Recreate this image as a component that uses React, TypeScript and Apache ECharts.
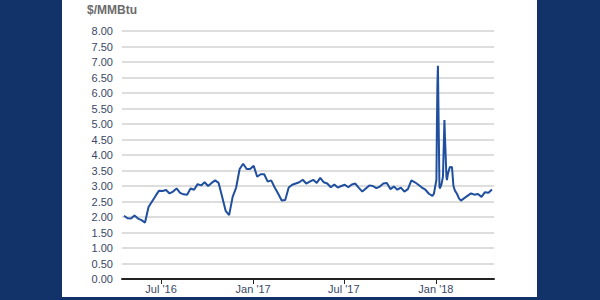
import React, { useEffect, useRef } from "react";
import * as echarts from "echarts";

const dates: string[] = [
  "2016-04-18","2016-04-25","2016-05-02","2016-05-09","2016-05-16","2016-05-23","2016-05-30",
  "2016-06-06","2016-06-13","2016-06-20","2016-06-27","2016-07-04","2016-07-11","2016-07-18",
  "2016-07-25","2016-08-01","2016-08-08","2016-08-15","2016-08-22","2016-08-29","2016-09-05",
  "2016-09-12","2016-09-19","2016-09-26","2016-10-03","2016-10-10","2016-10-17","2016-10-24",
  "2016-10-31","2016-11-07","2016-11-14","2016-11-21","2016-11-28","2016-12-05","2016-12-12",
  "2016-12-19","2016-12-26","2017-01-02","2017-01-09","2017-01-16","2017-01-23","2017-01-30",
  "2017-02-06","2017-02-13","2017-02-20","2017-02-27","2017-03-06","2017-03-13","2017-03-20",
  "2017-03-27","2017-04-03","2017-04-10","2017-04-17","2017-04-24","2017-05-01","2017-05-08",
  "2017-05-15","2017-05-22","2017-05-29","2017-06-05","2017-06-12","2017-06-19","2017-06-26",
  "2017-07-03","2017-07-10","2017-07-17","2017-07-24","2017-07-31","2017-08-07","2017-08-14",
  "2017-08-21","2017-08-28","2017-09-04","2017-09-11","2017-09-18","2017-09-25","2017-10-02",
  "2017-10-09","2017-10-16","2017-10-23","2017-10-30","2017-11-06","2017-11-13","2017-11-20",
  "2017-11-27","2017-12-04","2017-12-11","2017-12-18","2017-12-25","2017-12-28","2018-01-02",
  "2018-01-03","2018-01-04","2018-01-05","2018-01-08","2018-01-09","2018-01-12","2018-01-15",
  "2018-01-17","2018-01-18","2018-01-19","2018-01-22","2018-01-23","2018-01-25","2018-01-29",
  "2018-01-31","2018-02-02","2018-02-05","2018-02-08","2018-02-12","2018-02-16","2018-02-20",
  "2018-02-26","2018-03-05","2018-03-12","2018-03-19","2018-03-26","2018-04-02","2018-04-09",
  "2018-04-16","2018-04-23"
];

const prices: number[] = [
  2.04,1.96,1.95,2.05,1.95,1.90,1.82,
  2.32,2.50,2.68,2.85,2.84,2.87,2.76,
  2.82,2.92,2.78,2.73,2.72,2.92,2.88,
  3.06,3.02,3.12,3.00,3.10,3.18,3.10,
  2.65,2.20,2.06,2.65,2.95,3.55,3.72,
  3.55,3.55,3.65,3.30,3.38,3.38,3.14,
  3.18,2.95,2.75,2.53,2.55,2.95,3.04,
  3.08,3.12,3.20,3.08,3.14,3.20,3.10,
  3.26,3.12,3.08,2.96,3.05,2.95,3.00,
  3.04,2.96,3.05,3.08,2.94,2.82,2.92,
  3.02,3.00,2.93,2.98,3.08,3.10,2.90,
  2.98,2.88,2.95,2.82,2.90,3.18,3.12,
  3.04,2.95,2.88,2.75,2.68,2.75,3.20,
  5.00,6.30,6.88,3.00,2.92,3.05,3.30,
  4.50,5.13,4.60,3.30,3.19,3.40,3.62,
  3.60,3.62,3.00,2.85,2.75,2.60,2.53,
  2.60,2.68,2.76,2.72,2.74,2.65,2.80,
  2.78,2.89
];

const xLabelDates: string[] = ["2016-07-01", "2017-01-01", "2017-07-01", "2018-01-01"];
const xLabelTexts: string[] = ["Jul '16", "Jan '17", "Jul '17", "Jan '18"];
const xMin = "2016-04-14";
const xMax = "2018-04-27";
const yMin = 0;
const yMax = 8;
const yStep = 0.5;
const unitLabel = "$/MMBtu";

const FONT = "Arial, 'Liberation Sans', sans-serif";

export default function App() {
  const ref = useRef<HTMLDivElement>(null);
  useEffect(() => {
    if (!ref.current) return;
    const chart = echarts.init(ref.current, undefined, { renderer: "svg" });
    const ts = (s: string) => new Date(s + "T00:00:00Z").getTime();
    const tickVals = xLabelDates.map(ts);
    chart.setOption({
      animation: false,
      backgroundColor: "transparent",
      textStyle: { fontFamily: FONT },
      grid: { left: 122, right: 106, top: 31, bottom: 21, containLabel: false },
      graphic: [
        {
          type: "text",
          left: 87,
          top: 4,
          style: { text: unitLabel, fill: "#6b6b6b", font: `bold 12px ${FONT}` },
        },
      ],
      xAxis: {
        type: "value",
        min: ts(xMin),
        max: ts(xMax),
        splitLine: { show: false },
        axisLine: { show: true, onZero: false, lineStyle: { color: "#222", width: 2 } },
        axisTick: { show: true, customValues: tickVals, length: 5, lineStyle: { color: "#222", width: 1 } },
        axisLabel: {
          customValues: tickVals,
          color: "#3a4766",
          fontSize: 11,
          fontFamily: FONT,
          margin: 4,
          formatter: (v: number) => {
            const i = tickVals.indexOf(v);
            return i >= 0 ? xLabelTexts[i] : "";
          },
        },
      },
      yAxis: {
        type: "value",
        min: yMin,
        max: yMax,
        interval: yStep,
        axisLine: { show: false },
        axisTick: { show: false },
        splitLine: { show: true, lineStyle: { color: "#d2d2d2", width: 1.5 } },
        axisLabel: {
          color: "#3a4766",
          fontSize: 11,
          fontFamily: FONT,
          margin: 9,
          formatter: (v: number) => v.toFixed(2),
        },
      },
      series: [
        {
          type: "line",
          data: dates.map((d, i) => [ts(d), prices[i]]),
          showSymbol: false,
          symbol: "none",
          lineStyle: { color: "#1f4f9e", width: 2 },
          z: 5,
        },
      ],
    });
    return () => chart.dispose();
  }, []);

  return (
    <div style={{ position: "fixed", left: 0, top: 0, width: 600, height: 300, background: "#12336a" }}>
      <div style={{ position: "absolute", left: 62, top: 0, width: 475, height: 297, background: "#ffffff" }} />
      <div ref={ref} style={{ position: "absolute", left: 0, top: 0, width: 600, height: 300 }} />
    </div>
  );
}
